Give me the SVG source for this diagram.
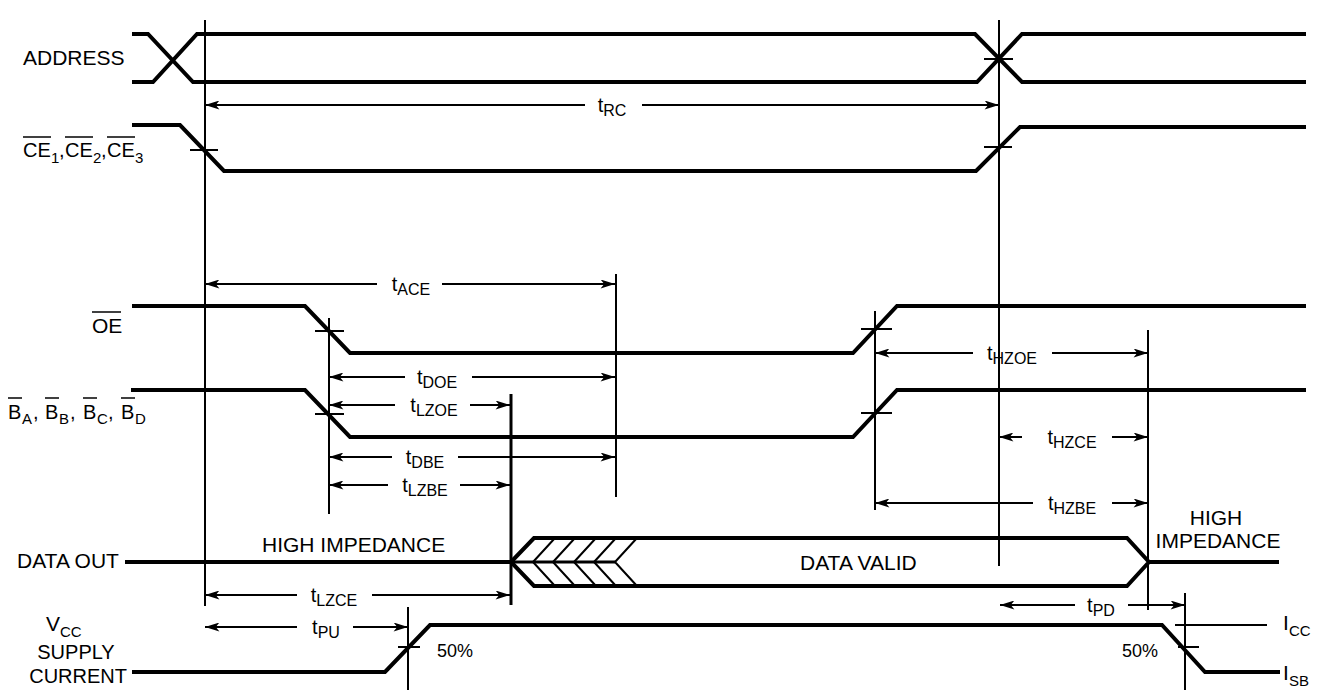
<svg xmlns="http://www.w3.org/2000/svg" width="1328" height="692" viewBox="0 0 1328 692">
<style>
.sig{fill:none;stroke:#000;stroke-width:4;stroke-linejoin:miter}
.ref{fill:none;stroke:#000;stroke-width:2}
.tick{fill:none;stroke:#000;stroke-width:2}
.hatch{fill:none;stroke:#000;stroke-width:2}
.dim{fill:none;stroke:#000;stroke-width:2;marker-end:url(#ah)}
text{font-family:"Liberation Sans",Arial,sans-serif;fill:#000}
.lbl{font-size:21px}
.lblc{font-size:20px}
.lblb{font-size:20px}
.sub{font-size:15px}
.t{font-size:20px;text-anchor:middle}
.ts{font-size:16px}
.pct{font-size:18px}
.ol{stroke:#000;stroke-width:1.5}
</style>
<defs>
<marker id="ah" viewBox="0 0 16 10" refX="16" refY="5" markerWidth="16" markerHeight="9" orient="auto" markerUnits="userSpaceOnUse">
<path d="M0,0 L16,5 L0,10 L4,5 Z" fill="#000"/>
</marker>
</defs>
<rect width="1328" height="692" fill="#fff"/>

<g id="address">
<text class="lbl" x="23" y="65">ADDRESS</text>
<path class="sig" d="M132,34 L148,34 L193,82 L977,82 L1022,34 L1306,34"/>
<path class="sig" d="M132,82 L153,82 L197,34 L975,34 L1022,82 L1306,82"/>
<line class="tick" x1="984" y1="59" x2="1013" y2="59"/>
</g>

<g id="ce">
<text class="lblc" x="23" y="157">CE</text>
<text class="sub" x="51" y="163">1</text>
<text class="lblc" x="59" y="157">,</text>
<text class="lblc" x="65" y="157">CE</text>
<text class="sub" x="93" y="163">2</text>
<text class="lblc" x="101" y="157">,</text>
<text class="lblc" x="107" y="157">CE</text>
<text class="sub" x="135" y="163">3</text>
<line class="ol" x1="23" y1="137" x2="51" y2="137"/>
<line class="ol" x1="65" y1="137" x2="93" y2="137"/>
<line class="ol" x1="107" y1="137" x2="135" y2="137"/>
<path class="sig" d="M132,125 L180,125 L224,171 L976,171 L1020,127 L1306,127"/>
<line class="tick" x1="190" y1="150" x2="218" y2="150"/>
<line class="tick" x1="984" y1="147" x2="1012" y2="147"/>
</g>

<g id="oe">
<text class="lbl" x="92" y="333">OE</text>
<line class="ol" x1="92" y1="312" x2="121" y2="312"/>
<path class="sig" d="M132,306 L305,306 L350,353 L853,353 L897,306 L1306,306"/>
<line class="tick" x1="315" y1="331" x2="344" y2="331"/>
<line class="tick" x1="861" y1="329" x2="892" y2="329"/>
</g>

<g id="b">
<text class="lblb" x="8" y="419">B</text>
<text class="sub" x="22" y="424">A</text>
<text class="lblb" x="33" y="419">,</text>
<text class="lblb" x="45" y="419">B</text>
<text class="sub" x="59" y="424">B</text>
<text class="lblb" x="70" y="419">,</text>
<text class="lblb" x="83" y="419">B</text>
<text class="sub" x="97" y="424">C</text>
<text class="lblb" x="108" y="419">,</text>
<text class="lblb" x="121" y="419">B</text>
<text class="sub" x="135" y="424">D</text>
<line class="ol" x1="8" y1="398" x2="22" y2="398"/>
<line class="ol" x1="45" y1="398" x2="59" y2="398"/>
<line class="ol" x1="83" y1="398" x2="97" y2="398"/>
<line class="ol" x1="121" y1="398" x2="135" y2="398"/>
<path class="sig" d="M131,390 L305,390 L350,437 L853,437 L897,390 L1306,390"/>
<line class="tick" x1="315" y1="414" x2="344" y2="414"/>
<line class="tick" x1="861" y1="413" x2="892" y2="413"/>
</g>

<g id="dataout">
<text class="lbl" x="17" y="568">DATA OUT</text>
<text class="lbl" x="262" y="552">HIGH IMPEDANCE</text>
<line class="sig" x1="125" y1="562" x2="511" y2="562"/>
<path class="sig" d="M511,562 L534,538 L1127,538 L1149,562 L1127,586 L534,586 Z"/>
<line class="sig" x1="511" y1="562" x2="615" y2="562" style="stroke-width:3"/>
<path class="hatch" d="M533,562 L555,538 M533,562 L555,586 M553,562 L575,538 M553,562 L575,586 M574,562 L596,538 M574,562 L596,586 M594,562 L616,538 M594,562 L616,586 M615,562 L637,538 M615,562 L637,586"/>
<text class="lbl" x="800" y="570">DATA VALID</text>
<line class="sig" x1="1149" y1="562" x2="1279" y2="562"/>
<text class="lbl" x="1216" y="525" text-anchor="middle">HIGH</text>
<text class="lbl" x="1218" y="548" text-anchor="middle">IMPEDANCE</text>
</g>

<g id="vcc">
<text class="lbl" x="46" y="631">V</text>
<text class="sub" x="60" y="637">CC</text>
<text class="lblc" x="76" y="659" text-anchor="middle">SUPPLY</text>
<text class="lblc" x="127" y="683" text-anchor="end">CURRENT</text>
<path class="sig" d="M132,672 L385,672 L430,625 L1162,625 L1205,672 L1280,672"/>
<line class="tick" x1="398" y1="647" x2="420" y2="647"/>
<line class="tick" x1="1175" y1="625" x2="1267" y2="625"/>
<line class="tick" x1="1178" y1="647" x2="1199" y2="647"/>
<text class="pct" x="437" y="657">50%</text>
<text class="pct" x="1122" y="657">50%</text>
<text class="lbl" x="1283" y="630">I</text>
<text class="sub" x="1289" y="636">CC</text>
<text class="lbl" x="1283" y="680">I</text>
<text class="sub" x="1289" y="686">SB</text>
</g>

<g id="connectors">
<line class="ref" x1="205" y1="20" x2="205" y2="606"/>
<line class="ref" x1="999" y1="20" x2="999" y2="566"/>
<line class="ref" x1="616" y1="274" x2="616" y2="497"/>
<line class="ref" x1="329" y1="318" x2="329" y2="514"/>
<line class="ref" x1="875" y1="311" x2="875" y2="510"/>
<line class="ref" x1="1148" y1="330" x2="1148" y2="610"/>
<line class="ref" x1="511" y1="394" x2="511" y2="605" style="stroke-width:3"/>
<line class="ref" x1="408" y1="607" x2="408" y2="690"/>
<line class="ref" x1="1185" y1="593" x2="1185" y2="690"/>

<path class="dim" d="M585,105 L205,105"/><path class="dim" d="M642,105 L999,105"/>
<text class="t" x="612" y="112">t<tspan class="ts" dy="4">RC</tspan></text>

<path class="dim" d="M377,284 L205,284"/><path class="dim" d="M442,284 L615,284"/>
<text class="t" x="411" y="291">t<tspan class="ts" dy="4">ACE</tspan></text>

<path class="dim" d="M405,377 L329,377"/><path class="dim" d="M472,377 L615,377"/>
<text class="t" x="437" y="384">t<tspan class="ts" dy="4">DOE</tspan></text>

<path class="dim" d="M395,405 L329,405"/><path class="dim" d="M470,405 L510,405"/>
<text class="t" x="434" y="412">t<tspan class="ts" dy="4">LZOE</tspan></text>

<path class="dim" d="M392,457 L329,457"/><path class="dim" d="M458,457 L615,457"/>
<text class="t" x="425" y="464">t<tspan class="ts" dy="4">DBE</tspan></text>

<path class="dim" d="M388,485 L329,485"/><path class="dim" d="M460,485 L510,485"/>
<text class="t" x="425" y="492">t<tspan class="ts" dy="4">LZBE</tspan></text>

<path class="dim" d="M973,353 L875,353"/><path class="dim" d="M1052,353 L1148,353"/>
<text class="t" x="1012" y="360">t<tspan class="ts" dy="4">HZOE</tspan></text>

<path class="dim" d="M1022,437 L999,437"/><path class="dim" d="M1112,437 L1148,437"/>
<text class="t" x="1072" y="444">t<tspan class="ts" dy="4">HZCE</tspan></text>

<path class="dim" d="M1033,503 L875,503"/><path class="dim" d="M1112,503 L1148,503"/>
<text class="t" x="1072" y="510">t<tspan class="ts" dy="4">HZBE</tspan></text>

<path class="dim" d="M297,595 L205,595"/><path class="dim" d="M372,595 L510,595"/>
<text class="t" x="334" y="602">t<tspan class="ts" dy="4">LZCE</tspan></text>

<path class="dim" d="M297,627 L205,627"/><path class="dim" d="M353,627 L408,627"/>
<text class="t" x="326" y="634">t<tspan class="ts" dy="4">PU</tspan></text>

<path class="dim" d="M1075,605 L1000,605"/><path class="dim" d="M1128,605 L1185,605"/>
<text class="t" x="1101" y="612">t<tspan class="ts" dy="4">PD</tspan></text>
</g>
</svg>
